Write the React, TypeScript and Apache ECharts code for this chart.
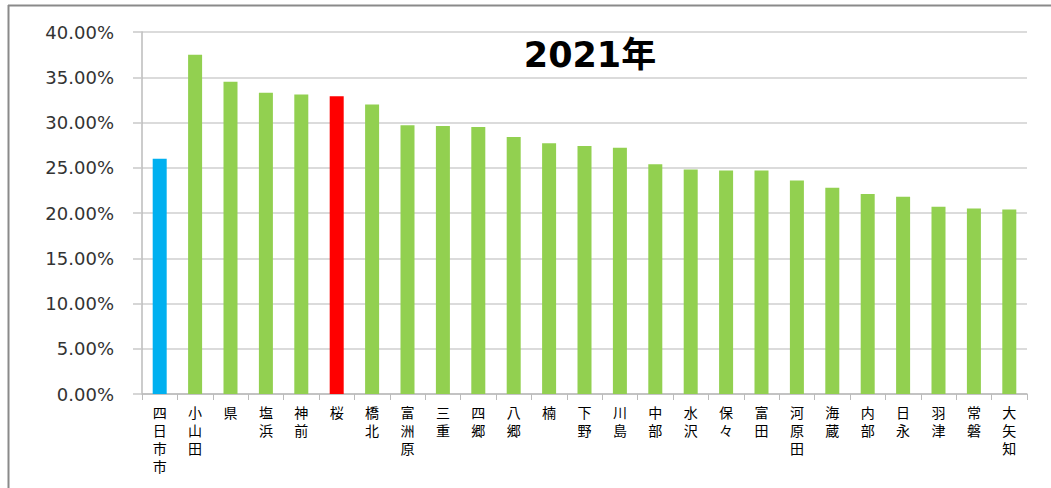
import React, { useEffect, useRef } from "react";
import * as echarts from "echarts";

const categories = ["四日市市", "小山田", "県", "塩浜", "神前", "桜", "橋北", "富洲原", "三重", "四郷", "八郷", "楠", "下野", "川島", "中部", "水沢", "保々", "富田", "河原田", "海蔵", "内部", "日永", "羽津", "常磐", "大矢知"];
const values = [26.0, 37.5, 34.5, 33.3, 33.1, 32.9, 32.0, 29.7, 29.6, 29.5, 28.4, 27.7, 27.4, 27.2, 25.4, 24.8, 24.7, 24.7, 23.6, 22.8, 22.1, 21.8, 20.7, 20.5, 20.4];
const barColors: Record<string, string> = { "四日市市": "#00b0f0", "桜": "#ff0000" };
const defaultColor = "#92d050";
const titleText = "2021年";

export default function App() {
  const ref = useRef<HTMLDivElement>(null);
  useEffect(() => {
    if (!ref.current) return;
    const chart = echarts.init(ref.current, null, { renderer: "svg" });
    chart.setOption({
      animation: false,
      title: {
        text: titleText,
        left: 585,
        top: 32,
        textAlign: "center",
        textStyle: { fontSize: 35, fontWeight: "bold", color: "#000", fontFamily: "DejaVu Sans, Noto Sans CJK JP" },
      },
      graphic: [
        { type: "line", shape: { x1: 8, y1: 5.5, x2: 1051, y2: 5.5 }, style: { stroke: "#8a8a8a", lineWidth: 2 } },
        { type: "line", shape: { x1: 8.5, y1: 5, x2: 8.5, y2: 488 }, style: { stroke: "#8a8a8a", lineWidth: 2 } },
      ],
      grid: { left: 142, right: 24, top: 32, bottom: 94 },
      xAxis: {
        type: "category",
        data: categories,
        axisLine: { lineStyle: { color: "#bbbbbb", width: 1.5 } },
        axisTick: { show: true, alignWithLabel: false, length: 6, lineStyle: { color: "#bbbbbb" } },
        axisLabel: {
          interval: 0,
          margin: 9,
          color: "#000",
          fontSize: 14,
          lineHeight: 18,
          verticalAlign: "top",
          fontFamily: "Noto Sans CJK JP",
          formatter: (v: string) => v.split("").join("\n"),
        },
      },
      yAxis: {
        type: "value",
        min: 0,
        max: 40,
        interval: 5,
        axisLine: { show: true, lineStyle: { color: "#bbbbbb", width: 1.5 } },
        axisTick: { show: true, length: 9, lineStyle: { color: "#c8c8c8", width: 1.5 } },
        splitLine: { lineStyle: { color: "#cfcfcf", width: 1.5 } },
        axisLabel: {
          margin: 28,
          color: "#333",
          fontSize: 18,
          fontFamily: "DejaVu Sans",
          formatter: (v: number) => v.toFixed(2) + "%",
        },
      },
      series: [
        {
          type: "bar",
          barWidth: 14,
          data: categories.map((c, i) => ({ value: values[i], itemStyle: { color: barColors[c] || defaultColor } })),
        },
      ],
    });
    return () => chart.dispose();
  }, []);
  return <div ref={ref} style={{ position: "absolute", left: 0, top: 0, width: 1051, height: 488 }} />;
}
